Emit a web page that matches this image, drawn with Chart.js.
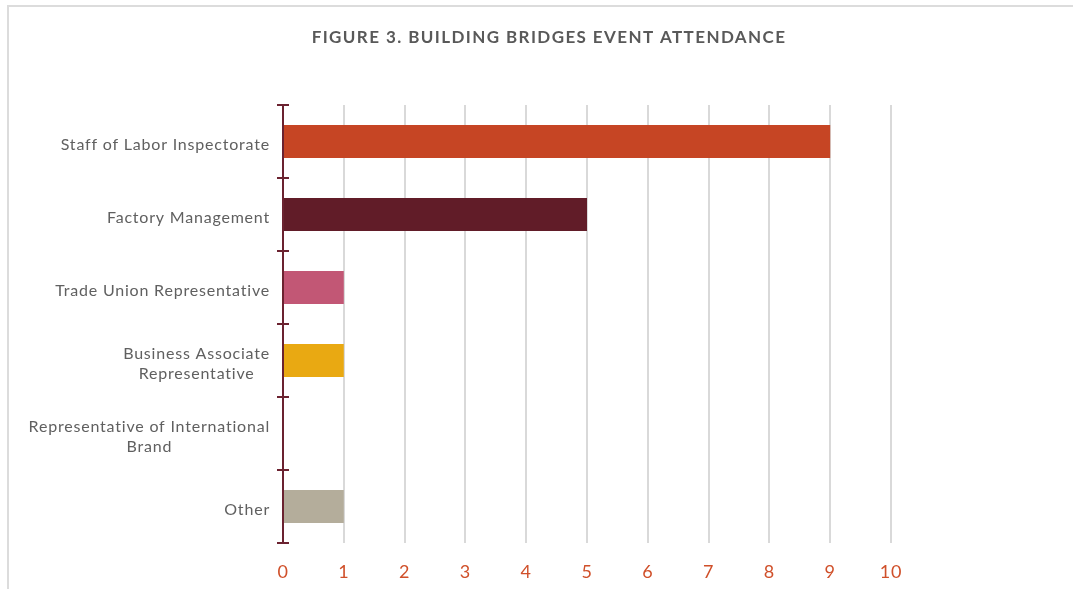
<!DOCTYPE html>
<html>
<head>
<meta charset="utf-8">
<script src="https://cdn.jsdelivr.net/npm/chart.js@4"></script>
<style>
	html, body { margin: 0; padding: 0; background: #fff; }
	#wrap { position: relative; width: 1073px; height: 589px; overflow: hidden; }
	#card { position: absolute; left: 7px; top: 5px; width: 1200px; height: 700px; border: 2px solid #dcdcdc; box-sizing: border-box; }
	canvas { position: absolute; left: 0; top: 0; }
</style>
</head>
<body>
<div id="wrap">
	<div id="card"></div>
	<canvas id="myChart" width="1073" height="589"></canvas>
</div>
<script>
const title = "FIGURE 3. BUILDING BRIDGES EVENT ATTENDANCE";
const categories = [
	"Staff of Labor Inspectorate",
	"Factory Management",
	"Trade Union Representative",
	["Business Associate", "Representative"],
	["Representative of International", "Brand"],
	"Other",
];
const attendance = [9, 5, 1, 1, 0, 1];
const barColors = ["#c64524", "#611c28", "#c25775", "#e9a912", "#ffffff", "#b4ad9b"];
const xTicks = [0, 1, 2, 3, 4, 5, 6, 7, 8, 9, 10];

const axisColor = "#6b2230";

// crossing tick marks, category labels (multi-line ones centred as a block) and the title
const extras = {
	id: "extras",
	beforeDraw(chart) {
		chart.ctx.letterSpacing = "0.8px";
	},
	afterDraw(chart) {
		const y = chart.scales.y;
		const c = chart.ctx;
		const step = (y.bottom - y.top) / categories.length;
		c.save();
		c.strokeStyle = axisColor;
		c.lineWidth = 2;
		for (let i = 0; i <= categories.length; i++) {
			const py = Math.round(y.top + i * step);
			c.beginPath();
			c.moveTo(y.right - 6, py);
			c.lineTo(y.right + 6, py);
			c.stroke();
		}

		c.font = "16px Lato";
		c.letterSpacing = "0.8px";
		c.fillStyle = "#606060";
		c.textAlign = "center";
		c.textBaseline = "middle";
		const labelRight = y.right - 13;
		categories.forEach((label, i) => {
			const lines = Array.isArray(label) ? label : [label];
			const maxW = Math.max(...lines.map((l) => c.measureText(l).width));
			const cx = labelRight - maxW / 2;
			const cy = y.getPixelForValue(i) + 3;
			lines.forEach((l, j) => {
				c.fillText(l, cx, cy + (j - (lines.length - 1) / 2) * 20);
			});
		});

		c.fillStyle = "#595959";
		c.font = "bold 17px Lato";
		c.letterSpacing = "1.4px";
		c.fillText(title, 549, 38);
		c.restore();
	},
};

const ctx = document.getElementById("myChart");
new Chart(ctx, {
	type: "bar",
	data: {
		labels: categories,
		datasets: [
			{
				data: attendance,
				backgroundColor: barColors,
				borderWidth: 0,
				categoryPercentage: 0.9,
				barPercentage: 0.5,
			},
		],
	},
	plugins: [extras],
	options: {
		indexAxis: "y",
		responsive: false,
		animation: false,
		layout: { padding: { left: 0, right: 182, top: 105, bottom: 0 } },
		plugins: {
			legend: { display: false },
			tooltip: { enabled: false },
		},
		scales: {
			x: {
				min: 0,
				max: 10,
				afterBuildTicks: (axis) => {
					axis.ticks = xTicks.map((v) => ({ value: v }));
				},
				afterFit: (axis) => {
					axis.height = 46;
				},
				grid: { color: "#d9d9d9", lineWidth: 2, drawTicks: false },
				border: { display: false },
				ticks: {
					color: "#d0502a",
					padding: 18,
					font: { family: "Lato", size: 18 },
				},
			},
			y: {
				afterFit: (axis) => {
					axis.width = 283;
				},
				grid: { drawOnChartArea: false, drawTicks: false, offset: true },
				border: { color: axisColor, width: 2 },
				ticks: {
					color: "rgba(0,0,0,0)",
					padding: 13,
					font: { family: "Lato", size: 16, lineHeight: 1.25 },
				},
			},
		},
	},
});
</script>
</body>
</html>
